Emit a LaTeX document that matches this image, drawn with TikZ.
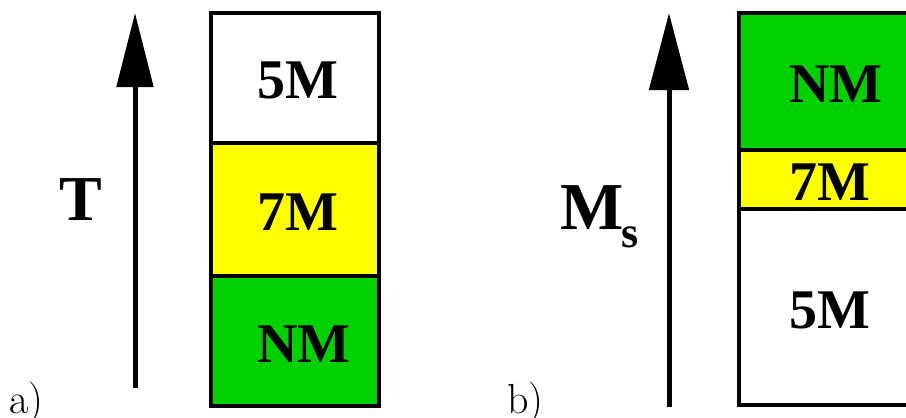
\documentclass[tikz,border=0pt]{standalone}
\usepackage{fontspec}
\setmainfont{Liberation Serif}
\newfontfamily\lmfont{Latin Modern Roman}
\usetikzlibrary{arrows.meta}
\definecolor{nmgreen}{RGB}{0,210,0}
\definecolor{ylw}{RGB}{255,255,0}
\tikzset{
  cell/.style={draw=black, line width=4pt},
  axis/.style={line width=5pt, -{Triangle[length=74pt 0 0,width=36pt 0 0]}},
  axisb/.style={line width=5pt, -{Triangle[length=77pt 0 0,width=39pt 0 0]}},
  lab/.style={inner sep=0pt, anchor=base, font=\bfseries\fontsize{56}{60}\selectfont},
  panel/.style={inner sep=0pt, anchor=base west, font=\lmfont\fontsize{42}{46}\selectfont},
}
\begin{document}
\begin{tikzpicture}[x=1pt,y=-1pt]
\useasboundingbox (0,0) rectangle (906,418);
% left panel
\fill[white] (211,13) rectangle (379,143);
\fill[ylw] (211,143) rectangle (379,276);
\fill[nmgreen] (211,276) rectangle (379,406);
\draw[cell] (211,13) rectangle (379,406);
\draw[cell] (211,143) -- (379,143);
\draw[cell] (211,276) -- (379,276);
\node[lab] (a5) at (298,98) {5M};
\node[lab] (a7) at (298,230) {7M};
\node[lab] (anm) at (304,362) {NM};
\coordinate (aS) at (135,388);
\coordinate (aE) at (135,13);
\draw[axis] (aS) -- (aE);
\node[inner sep=0pt, anchor=base, font=\bfseries\fontsize{64}{70}\selectfont] (T) at (81,220) {T};
\node[panel] (pa) at (9,413) {a)};
% right panel
\fill[nmgreen] (739,13) rectangle (908,150);
\fill[ylw] (739,150) rectangle (908,209);
\fill[white] (739,209) rectangle (908,405);
\draw[cell] (739,13) rectangle (908,405);
\draw[cell] (739,150) -- (908,150);
\draw[cell] (739,209) -- (908,209);
\node[lab] (bnm) at (836,102) {NM};
\node[lab] (b7) at (830,200) {7M};
\node[lab] (b5) at (830,328) {5M};
\coordinate (bS) at (669,407);
\coordinate (bE) at (669,13);
\draw[axisb] (bS) -- (bE);
\node[inner sep=0pt, anchor=base west, font=\bfseries\fontsize{67}{70}\selectfont] (M) at (560,229) {M};
\node[inner sep=0pt, anchor=base west, font=\bfseries\fontsize{44}{48}\selectfont] (s) at (621,247) {s};
\node[panel] (pb) at (507,413) {b)};
\end{tikzpicture}
\end{document}
